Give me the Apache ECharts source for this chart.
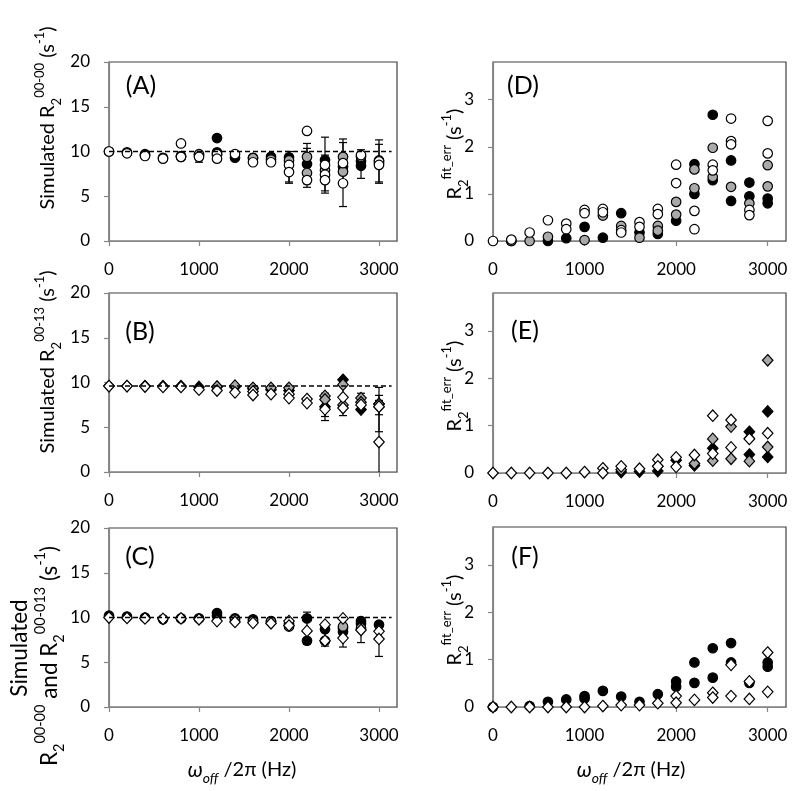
<!DOCTYPE html>
<html><head><meta charset="utf-8">
<script src="https://cdn.jsdelivr.net/npm/echarts@6/dist/echarts.min.js"></script>
<style>html,body{margin:0;padding:0;background:#fff}#c{width:795px;height:791px}</style>
</head><body><div id="c"></div>
<script>
// ---------- tick values ----------
const xTickValues = [0, 1000, 2000, 3000];
const rightYTicks = [0, 1, 2, 3];

// ---------- Panel A : Simulated R2 00-00 (circles) ----------
const aBlack = [[0,10.0],[200,9.9],[400,9.7],[600,9.3],[800,9.5],[1000,9.6],[1200,11.5],[1200,9.9],[1400,9.3],[1600,9.3],[1800,9.4],[2000,9.35],[2200,8.6],[2400,9.05],[2600,8.3],[2800,8.9],[2800,8.4],[3000,9.0]];
const aGray = [[400,9.6],[800,9.4],[1000,9.7],[1200,9.6],[1600,9.25],[1800,9.1],[2000,9.0],[2200,9.4],[2200,7.6],[2400,7.9],[2600,9.4],[2600,7.75],[2800,9.4],[3000,8.7]];
const aWhite = [[0,10.0],[200,9.8],[400,9.5],[600,9.2],[800,10.9],[800,9.4],[1000,9.4],[1200,9.7],[1200,9.2],[1400,9.7],[1600,8.8],[1800,8.8],[2000,8.5],[2000,7.7],[2200,12.3],[2200,6.8],[2400,8.5],[2400,7.4],[2400,6.8],[2600,8.7],[2600,6.45],[2800,9.6],[3000,8.9],[3000,8.5]];
const aErr = [[600,8.9,9.6],[1000,8.8,9.9],[1200,8.9,10.0],[1400,9.0,9.8],[1800,8.6,9.6],[2000,6.45,10.0],[2000,6.6,8.7],[2200,6.0,10.9],[2200,6.4,10.35],[2400,5.35,11.6],[2400,5.6,9.6],[2600,3.85,11.4],[2600,6.2,11.0],[2800,7.0,10.2],[3000,6.45,11.3],[3000,6.6,10.8]];
const aRef = [[0,10],[3140,10]];

// ---------- Panel B : Simulated R2 00-13 (diamonds) ----------
const bBlack = [[0,9.6],[200,9.6],[400,9.6],[600,9.6],[800,9.6],[1000,9.5],[1200,9.5],[1400,9.5],[1600,9.3],[1800,9.2],[2000,9.1],[2400,7.3],[2600,10.3],[2800,6.97],[3000,7.6]];
const bGray = [[1200,9.55],[1400,9.65],[1600,9.4],[1800,9.4],[2000,9.4],[2400,8.5],[2400,8.1],[2600,9.76],[2600,7.5],[2800,8.26],[2800,7.8],[3000,7.6],[3000,7.3]];
const bWhite = [[0,9.6],[200,9.6],[400,9.55],[600,9.5],[800,9.5],[1000,9.2],[1200,9.1],[1400,8.9],[1600,9.0],[1600,8.6],[1800,8.7],[2000,8.7],[2000,8.26],[2200,8.15],[2200,7.7],[2400,7.0],[2600,8.34],[2600,7.15],[2800,7.5],[3000,7.3],[3000,3.35]];
const bErr = [[2400,5.75,8.8],[2400,6.2,8.4],[2600,6.3,9.8],[2800,6.8,8.8],[3000,-1,9.45],[3000,4.5,8.56],[3000,6.4,8.0]];
const bRef = [[0,9.6],[3140,9.6]];

// ---------- Panel C : R2 00-00 (circles) and R2 00-013 (diamonds) ----------
const cBlack = [[0,10.2],[200,10.1],[400,10.0],[600,9.8],[800,9.9],[1000,9.9],[1200,10.5],[1200,10.2],[1400,9.9],[1600,9.8],[1800,9.6],[2000,9.3],[2200,9.9],[2200,7.4],[2400,8.7],[2400,7.4],[2600,8.8],[2600,8.4],[2800,9.6],[2800,9.3],[3000,9.2]];
const cGray = [[1400,9.75],[1600,9.6],[1800,9.55],[2000,9.0],[2600,9.0],[2800,8.8]];
const cWhite = [[0,10.0],[200,9.95],[400,9.9],[600,9.85],[800,9.9],[1000,9.8],[1200,9.6],[1400,9.5],[1600,9.4],[1800,9.35],[2000,9.6],[2000,9.1],[2200,8.5],[2400,9.2],[2400,7.4],[2600,9.9],[2600,7.7],[2800,8.6],[3000,8.45],[3000,7.6]];
const cErr = [[2200,7.0,10.6],[2400,6.8,9.35],[2600,6.7,9.9],[2800,7.2,9.6],[3000,5.65,9.5]];
const cRef = [[0,10],[3140,10]];

// ---------- Panel D : R2 fit_err (circles) ----------
const dBlack = [[200,0],[600,0],[800,0.06],[1000,0.30],[1200,0.07],[1400,0.59],[1600,0.18],[1800,0.15],[2000,0.43],[2200,1.63],[2200,1.0],[2400,2.68],[2400,1.29],[2600,1.71],[2600,0.85],[2800,1.24],[2800,0.95],[3000,0.90],[3000,0.80]];
const dGray = [[200,0],[400,0],[600,0.09],[1000,0.02],[1200,0.54],[1400,0.32],[1600,0.07],[1800,0.32],[1800,0.22],[2000,0.83],[2000,0.56],[2200,1.52],[2200,1.12],[2400,1.98],[2400,1.36],[2600,1.15],[2800,0.80],[3000,1.61],[3000,1.16]];
const dWhite = [[0,0],[200,0.03],[400,0.18],[600,0.44],[800,0.37],[800,0.25],[1000,0.66],[1000,0.59],[1200,0.68],[1200,0.61],[1400,0.23],[1400,0.18],[1600,0.40],[1600,0.30],[1800,0.68],[1800,0.57],[2000,1.62],[2000,1.23],[2200,0.64],[2200,0.25],[2400,1.62],[2400,1.50],[2600,2.60],[2600,2.12],[2600,2.05],[2800,0.66],[2800,0.55],[3000,2.55],[3000,1.86]];

// ---------- Panel E : R2 fit_err (diamonds) ----------
const eBlack = [[1400,0.02],[1600,0.03],[1800,0.04],[2000,0.27],[2200,0.16],[2400,0.52],[2800,0.87],[2800,0.39],[3000,1.30],[3000,0.34]];
const eGray = [[1400,0.07],[1800,0.14],[2200,0.2],[2400,0.72],[2400,0.26],[2600,0.98],[2600,0.30],[2800,0.73],[2800,0.25],[3000,2.38],[3000,0.55]];
const eWhite = [[0,0],[200,0],[400,0],[600,0],[800,0],[1000,0.02],[1200,0.1],[1200,0],[1400,0.14],[1600,0.09],[1800,0.28],[1800,0.14],[2000,0.33],[2000,0.13],[2200,0.38],[2400,1.21],[2400,0.41],[2600,1.12],[2600,0.54],[2800,0.72],[3000,0.84]];

// ---------- Panel F : R2 fit_err (circles + diamonds) ----------
const fBlack = [[0,0],[400,0.02],[600,0.11],[800,0.16],[1000,0.23],[1000,0.18],[1200,0.34],[1400,0.22],[1600,0.11],[1800,0.27],[2000,0.54],[2000,0.43],[2200,0.94],[2200,0.51],[2400,1.24],[2400,0.62],[2600,1.35],[2600,0.94],[2800,0.51],[3000,0.94],[3000,0.85]];
const fWhite = [[0,0],[200,0],[400,0],[600,0],[800,0],[1000,0],[1200,0.02],[1400,0.04],[1600,0.04],[1800,0.08],[2000,0.23],[2000,0.09],[2200,0.15],[2400,0.30],[2400,0.20],[2600,0.89],[2600,0.23],[2800,0.54],[2800,0.17],[3000,1.15],[3000,0.32]];

// ---------- styling ----------
const FONT = 'Lato';
const AXIS_GRAY = '#868686';
const FILL = {black:'#000000', gray:'#a9a9a9', white:'#ffffff'};

const grids = [
  {left:109, top:62,  width:288, height:179, show:true, borderColor:'#404040', borderWidth:1.2}, // A
  {left:493, top:62,  width:293, height:179, show:true, borderColor:'#404040', borderWidth:1.2}, // D
  {left:109, top:293, width:288, height:179, show:true, borderColor:'#404040', borderWidth:1.2}, // B
  {left:493, top:293, width:293, height:180, show:true, borderColor:'#404040', borderWidth:1.2}, // E
  {left:109, top:528, width:288, height:179, show:true, borderColor:'#404040', borderWidth:1.2}, // C
  {left:493, top:527, width:293, height:180, show:true, borderColor:'#404040', borderWidth:1.2}  // F
];
const isRight = [false, true, false, true, false, true];
const plain = v => String(v);

const xAxes = grids.map((g, i) => ({
  type:'value', gridIndex:i, min:0, max:3200,
  axisLine:{show:true, onZero:false, lineStyle:{color:AXIS_GRAY, width:1.2}},
  axisTick:{show:true, length:5, customValues:xTickValues, lineStyle:{color:AXIS_GRAY, width:1.2}},
  axisLabel:{customValues:xTickValues, formatter:plain, fontFamily:FONT, fontSize:17, color:'#000', margin:20},
  splitLine:{show:false}
}));
const yAxes = grids.map((g, i) => isRight[i] ? ({
  type:'value', gridIndex:i, min:0, max:3.8,
  axisLine:{show:true, onZero:false, lineStyle:{color:AXIS_GRAY, width:1.2}},
  axisTick:{show:true, length:5, customValues:rightYTicks, lineStyle:{color:AXIS_GRAY, width:1.2}},
  axisLabel:{customValues:rightYTicks, formatter:plain, fontFamily:FONT, fontSize:17, color:'#000', margin:19},
  splitLine:{show:false}
}) : ({
  type:'value', gridIndex:i, min:0, max:20, interval:5,
  axisLine:{show:true, onZero:false, lineStyle:{color:AXIS_GRAY, width:1.2}},
  axisTick:{show:true, length:5, lineStyle:{color:AXIS_GRAY, width:1.2}},
  axisLabel:{formatter:plain, fontFamily:FONT, fontSize:17, color:'#000', margin:19},
  splitLine:{show:false}
}));

function scatter(idx, data, color, symbol) {
  return {
    type:'scatter', xAxisIndex:idx, yAxisIndex:idx, data:data, silent:true,
    symbol: symbol, symbolSize: symbol === 'diamond' ? [10.5, 11.5] : 9.5,
    itemStyle:{color:FILL[color], borderColor:'#000', borderWidth:1.2, opacity:1},
    z: 3
  };
}
function errBars(idx, data) {
  return {
    type:'custom', xAxisIndex:idx, yAxisIndex:idx, data:data, silent:true, clip:true,
    encode:{x:0, y:[1,2]}, z:2,
    renderItem: function (params, api) {
      const x = api.value(0), lo = api.value(1), hi = api.value(2);
      const p1 = api.coord([x, hi]), p2 = api.coord([x, lo]);
      const w = 4;
      const st = {stroke:'#000', lineWidth:1.2};
      return {type:'group', children:[
        {type:'line', shape:{x1:p1[0], y1:p1[1], x2:p2[0], y2:p2[1]}, style:st},
        {type:'line', shape:{x1:p1[0]-w, y1:p1[1], x2:p1[0]+w, y2:p1[1]}, style:st},
        {type:'line', shape:{x1:p2[0]-w, y1:p2[1], x2:p2[0]+w, y2:p2[1]}, style:st}
      ]};
    }
  };
}
function refLine(idx, data) {
  return {
    type:'line', xAxisIndex:idx, yAxisIndex:idx, data:data, silent:true,
    symbol:'none', lineStyle:{color:'#000', width:1.5, type:[5,3]}, z:4
  };
}

const series = [
  errBars(0, aErr), scatter(0, aBlack, 'black', 'circle'), scatter(0, aGray, 'gray', 'circle'), scatter(0, aWhite, 'white', 'circle'), refLine(0, aRef),
  scatter(1, dBlack, 'black', 'circle'), scatter(1, dGray, 'gray', 'circle'), scatter(1, dWhite, 'white', 'circle'),
  errBars(2, bErr), scatter(2, bBlack, 'black', 'diamond'), scatter(2, bGray, 'gray', 'diamond'), scatter(2, bWhite, 'white', 'diamond'), refLine(2, bRef),
  scatter(3, eBlack, 'black', 'diamond'), scatter(3, eGray, 'gray', 'diamond'), scatter(3, eWhite, 'white', 'diamond'),
  errBars(4, cErr), scatter(4, cBlack, 'black', 'circle'), scatter(4, cGray, 'gray', 'circle'), scatter(4, cWhite, 'white', 'diamond'), refLine(4, cRef),
  scatter(5, fBlack, 'black', 'circle'), scatter(5, fWhite, 'white', 'diamond')
];

function makeRich(main, small) {
  return {
    t:{fontFamily:FONT, fontSize:main, lineHeight:main * 1.5, verticalAlign:'middle', fill:'#000'},
    sub:{fontFamily:FONT, fontSize:small, lineHeight:main * 0.5, verticalAlign:'bottom', fill:'#000'},
    sup:{fontFamily:FONT, fontSize:small, lineHeight:main * 0.5, verticalAlign:'top', fill:'#000'},
    w:{fontFamily:FONT, fontSize:main + 1, fontStyle:'italic', lineHeight:main * 1.5, verticalAlign:'middle', fill:'#000'},
    io:{fontFamily:FONT, fontSize:small + 1, fontStyle:'italic', lineHeight:main * 0.5, verticalAlign:'bottom', fill:'#000'}
  };
}
const richStd = makeRich(20, 13);
const richBig = makeRich(22.5, 14.5);
function vText(x, y, text, rich) {
  return {type:'text', x:x, y:y, rotation:Math.PI/2, silent:true,
    style:{text:text, rich:rich || richStd, align:'center', verticalAlign:'middle', fill:'#000'}};
}
function hText(x, y, text) {
  return {type:'text', x:x, y:y, silent:true,
    style:{text:text, rich:richStd, align:'center', verticalAlign:'middle', fill:'#000'}};
}
function panelLabel(x, y, s) {
  return {type:'text', x:x, y:y, silent:true,
    style:{text:s, fontFamily:FONT, fontSize:25, fill:'#000', align:'center', verticalAlign:'middle'}};
}
const rightTitle = '{t|R}{sub|2}{sup|fit_err}{t| (s}{sup|-1}{t|)}';
const xTitle = '{w|ω}{io|off}{t| /2π (Hz)}';

const graphics = [
  vText(48, 118, '{t|Simulated R}{sub|2}{sup|00-00}{t| (s}{sup|-1}{t|)}'),
  vText(48, 362, '{t|Simulated R}{sub|2}{sup|00-13}{t| (s}{sup|-1}{t|)}'),
  vText(20, 648, '{t|Simulated}', richBig),
  vText(50, 656, '{t|R}{sub|2}{sup|00-00}{t| and R}{sub|2}{sup|00-013}{t| (s}{sup|-1}{t|)}', richBig),
  vText(455, 154, rightTitle),
  vText(455, 386, rightTitle),
  vText(455, 620, rightTitle),
  hText(242, 770, xTitle),
  hText(631, 770, xTitle),
  panelLabel(141, 86, '(A)'),
  panelLabel(523, 86, '(D)'),
  panelLabel(140, 332, '(B)'),
  panelLabel(525, 331, '(E)'),
  panelLabel(140, 557, '(C)'),
  panelLabel(525, 557, '(F)')
];

const chart = echarts.init(document.getElementById('c'), null, {renderer:'canvas'});
chart.setOption({
  animation:false,
  backgroundColor:'#ffffff',
  grid:grids,
  xAxis:xAxes,
  yAxis:yAxes,
  series:series,
  graphic:graphics
});
</script>
</body></html>
